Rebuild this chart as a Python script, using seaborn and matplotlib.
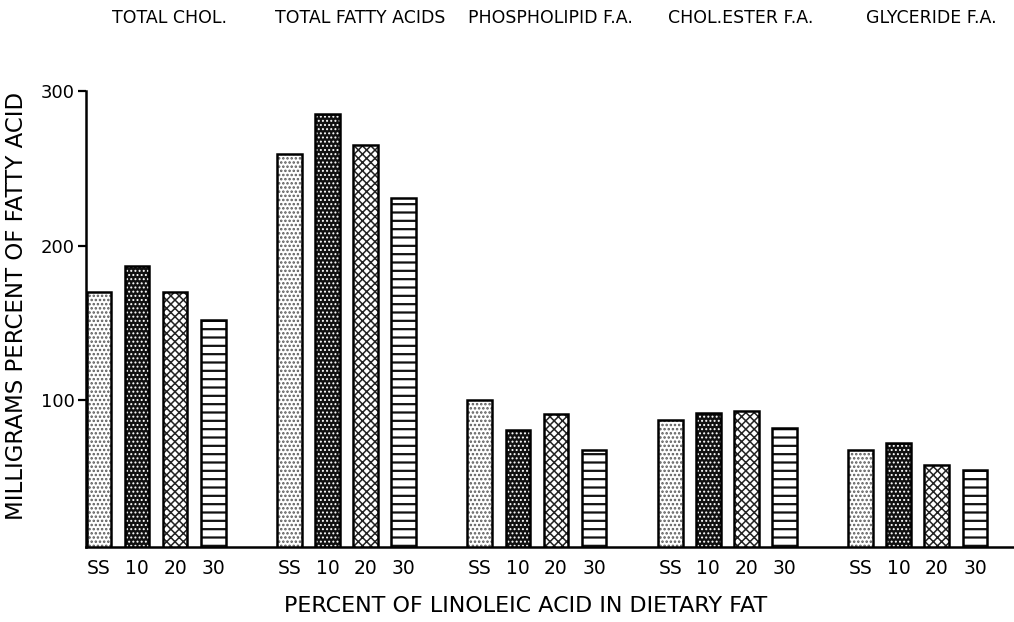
import numpy as np
import pandas as pd
import matplotlib
matplotlib.use("Agg")
import matplotlib.pyplot as plt
import matplotlib.transforms as mtransforms
import seaborn as sns

# Lipid fractions (groups) and dietary linoleic acid levels (bars within each group)
fractions = ["TOTAL CHOL.", "TOTAL FATTY ACIDS", "PHOSPHOLIPID F.A.",
             "CHOL.ESTER F.A.", "GLYCERIDE F.A."]
diets = ["SS", "10", "20", "30"]

# Milligrams percent for each diet, one value per fraction
ss_values = [170, 259, 100, 87, 68]
lin10_values = [187, 285, 81, 92, 72]
lin20_values = [170, 265, 91, 93, 58]
lin30_values = [152, 231, 68, 82, 55]

y_ticks = [100, 200, 300]

x_title = "PERCENT OF LINOLEIC ACID IN DIETARY FAT"
y_title = "MILLIGRAMS PERCENT OF FATTY ACID"

df = pd.DataFrame({
    "fraction": np.repeat(fractions, len(diets)),
    "diet": np.tile(diets, len(fractions)),
    "value": np.column_stack([ss_values, lin10_values,
                              lin20_values, lin30_values]).ravel(),
})

sns.set_style("white")
plt.rcParams["font.family"] = ["DejaVu Sans"]
plt.rcParams["hatch.linewidth"] = 1.2

fig = plt.figure(figsize=(10.14, 6.22), dpi=100)
ax = fig.add_axes([0.0848, 0.1206, 0.9152, 0.7331])

# Patterned fills for each diet: fill colour, hatch, hatch colour, hatch width
styles = {
    "SS": ("white", "....", "#5a5a5a", 1.2),
    "10": ("#111111", "....", "white", 0.9),
    "20": ("white", "xxxx", "#222222", 1.1),
    "30": ("white", "--", "#111111", 1.6),
}

sns.barplot(data=df, x="fraction", y="value", hue="diet",
            order=fractions, hue_order=diets, width=0.8, gap=0.35,
            palette=["white"] * 4, linewidth=0, legend=False, ax=ax)

for diet, container in zip(diets, ax.containers):
    face, hatch, hcolor, hwidth = styles[diet]
    for bar in container:
        bar.set_facecolor(face)
        bar.set_hatch(hatch)
        bar.set_edgecolor(hcolor)
        bar.set_linewidth(0)
        if hasattr(bar, "set_hatch_linewidth"):
            bar.set_hatch_linewidth(hwidth)

# Black outlines drawn on top of the patterned bars
sns.barplot(data=df, x="fraction", y="value", hue="diet",
            order=fractions, hue_order=diets, width=0.8, gap=0.35,
            fill=False, palette=["black"] * 4, linewidth=1.8,
            legend=False, ax=ax)

centers = [bar.get_x() + bar.get_width() / 2
           for container in ax.containers[:4] for bar in container]
labels = [d for d in diets for _ in fractions]
order = np.argsort(centers)
ax.set_xticks(np.array(centers)[order])
ax.set_xticklabels(np.array(labels)[order])

ax.set_xlim(-0.368, 4.505)
ax.set_ylim(5, 300)
ax.set_yticks(y_ticks)

for side in ["top", "right"]:
    ax.spines[side].set_visible(False)
for side in ["left", "bottom"]:
    ax.spines[side].set_linewidth(1.8)
    ax.spines[side].set_color("black")

ax.tick_params(axis="y", direction="out", length=6, width=1.6,
               pad=2, labelsize=13, colors="black", left=True)
ax.tick_params(axis="x", length=0, pad=9, labelsize=13.5, colors="black")
ax.set_xlabel("")
ax.set_ylabel("")

# Fraction names across the top, aligned with their groups
trans = mtransforms.blended_transform_factory(ax.transData, fig.transFigure)
for i, name in enumerate(fractions):
    ax.text(i + 0.07, 0.971, name, transform=trans, ha="center",
            va="center", fontsize=12.5, color="black")

fig.text(0.0158, 0.508, y_title, rotation=90, ha="center", va="center",
         fontsize=16.5, color="black")
fig.text(0.518, 0.0257, x_title, ha="center", va="center",
         fontsize=16, color="black")

fig.savefig("out.png", dpi=100)
